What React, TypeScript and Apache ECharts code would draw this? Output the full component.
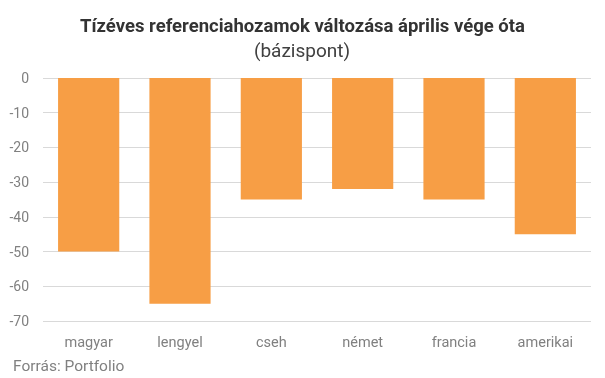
import React, { useEffect, useRef } from "react";
import * as echarts from "echarts";

const categories = ["magyar", "lengyel", "cseh", "német", "francia", "amerikai"];
const values = [-50, -65, -35, -32, -35, -45];
const yTicks = { min: -70, max: 0, interval: 10 };
const titleText = "Tízéves referenciahozamok változása április vége óta";
const subtitleText = "(bázispont)";
const sourceText = "Forrás: Portfolio";

export default function App() {
  const ref = useRef<HTMLDivElement>(null);
  useEffect(() => {
    if (!ref.current) return;
    const chart = echarts.init(ref.current, null, { renderer: "svg" });
    chart.setOption({
      animation: false,
      graphic: [
        {
          type: "text",
          x: 302.5,
          y: 26,
          style: {
            text: titleText,
            align: "center",
            verticalAlign: "middle",
            fontFamily: "Roboto",
            fontWeight: "bold",
            fontSize: 18.5,
            fill: "#333333",
          },
        },
        {
          type: "text",
          x: 302,
          y: 50,
          style: {
            text: subtitleText,
            align: "center",
            verticalAlign: "middle",
            fontFamily: "Roboto",
            fontWeight: "normal",
            fontSize: 19,
            fill: "#404040",
          },
        },
        {
          type: "text",
          x: 13,
          y: 366,
          style: {
            text: sourceText,
            align: "left",
            verticalAlign: "middle",
            fontFamily: "Roboto",
            fontWeight: "normal",
            fontSize: 15.5,
            fill: "#808080",
          },
        },
      ],
      grid: { left: 43, right: 14, top: 78, bottom: 57, containLabel: false },
      xAxis: {
        type: "category",
        data: categories,
        position: "bottom",
        axisLine: { show: false },
        axisTick: { show: false },
        axisLabel: { fontFamily: "Roboto", fontSize: 14.5, color: "#808080", margin: 14 },
      },
      yAxis: {
        type: "value",
        min: yTicks.min,
        max: yTicks.max,
        interval: yTicks.interval,
        axisLine: { show: false },
        axisTick: { show: false },
        axisLabel: { fontFamily: "Roboto", fontSize: 14, color: "#808080", margin: 14 },
        splitLine: { lineStyle: { color: "#d9d9d9", width: 1 } },
      },
      series: [
        {
          type: "bar",
          data: values,
          barWidth: "67%",
          itemStyle: { color: "#F79E45" },
        },
      ],
    });
    return () => chart.dispose();
  }, []);
  return <div ref={ref} style={{ position: "fixed", left: 0, top: 0, width: 605, height: 378 }} />;
}
